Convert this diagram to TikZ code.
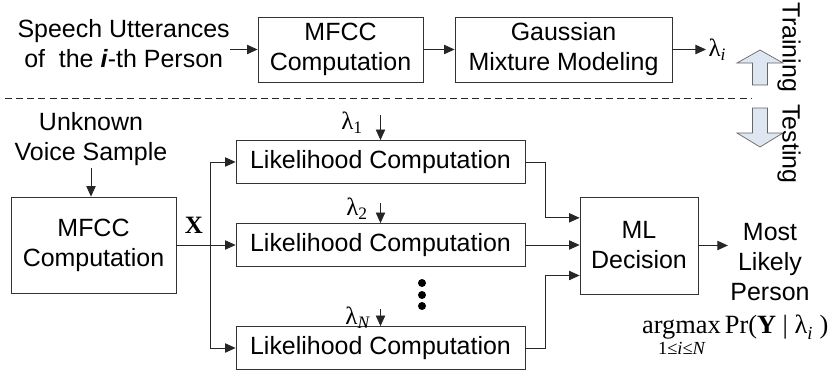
\documentclass[tikz,border=0pt]{standalone}
\usepackage{amsmath}
\usepackage{fontspec}
\setmainfont{Liberation Sans}
\newfontfamily\serifface{Liberation Serif}
\usepackage{xcolor}
\definecolor{phasefill}{RGB}{221,230,241}
\usepackage{tikz}
\usetikzlibrary{arrows.meta}
\usetikzlibrary{calc}
\newcommand{\lam}[1]{$\text{\serifface λ}_{\text{\serifface #1}}$}

\begin{document}
\begin{tikzpicture}[
    every node/.style={font=\fontsize{21.3}{25.6}\selectfont},
    block/.style={draw=black!80, line width=0.7pt, align=center, inner sep=0pt},
    note/.style={align=center, inner sep=2pt},
    wire/.style={draw=black!85, line width=0.7pt},
    flow/.style={wire, -{Triangle[length=9pt,width=8pt]}},
    phase/.style={draw=black!60, fill=phasefill, line width=0.6pt, line join=miter},
  ]
  \useasboundingbox (0cm,0cm) rectangle (24.99cm,11.13cm);

  % training: one speaker -> one model
  \node[note, anchor=east, inner sep=0pt] (speech) at (6.9cm,9.81cm) {Speech Utterances\\of\ \ the \textbf{\textit{i}}-th Person};
  \node[block, minimum width=4.95cm, minimum height=1.95cm] (mfcc1) at (10.215cm,9.645cm) {MFCC\\Computation};
  \node[block, minimum width=6.51cm, minimum height=1.95cm] (gmm) at (16.905cm,9.645cm) {Gaussian\\Mixture Modeling};
  \node[note, anchor=west] (lami) at (21.18cm,9.645cm) {\lam{\itshape i}};
  \draw[flow] (speech.east |- mfcc1.west) -- (mfcc1.west);
  \draw[flow] (mfcc1) -- (gmm);
  \draw[flow] (gmm) -- (lami);

  % phase switch
  \draw[phase] (22.8cm,9.63cm) -- (23.49cm,9.24cm) -- (23.025cm,9.24cm) -- (23.025cm,8.58cm)
    -- (22.575cm,8.58cm) -- (22.575cm,9.24cm) -- (22.11cm,9.24cm) -- cycle;
  \draw[phase] (22.8cm,6.72cm) -- (23.49cm,7.14cm) -- (23.025cm,7.14cm) -- (23.025cm,7.89cm)
    -- (22.575cm,7.89cm) -- (22.575cm,7.14cm) -- (22.11cm,7.14cm) -- cycle;
  \node[rotate=-90, inner sep=0pt] (train) at (23.67cm,9.705cm) {Training};
  \node[rotate=-90, inner sep=0pt] (test) at (23.67cm,6.81cm) {Testing};
  \draw[wire, dash pattern=on 6pt off 3.5pt] (0.15cm,8.19cm) -- (22.56cm,8.19cm);

  % testing: score the unknown sample against every model
  \node[note] (voice) at (2.73cm,6.96cm) {Unknown\\Voice Sample};
  \node[block, minimum width=4.95cm, minimum height=2.88cm] (mfcc2) at (2.805cm,3.78cm) {MFCC\\Computation};
  \draw[flow] (voice.south) -- (voice.south |- mfcc2.north);

  \foreach \i/\y in {1/6.27,2/3.78,3/0.69}
    \node[block, minimum width=8.67cm, minimum height=1.29cm] (lik\i) at (11.415cm,\y cm) {Likelihood Computation};

  \coordinate (fork) at (6.3cm,3.78cm);
  \node (x) at (5.82cm,4.38cm) {\serifface\bfseries X};
  \draw[wire] (mfcc2.east) -- (fork);
  \draw[wire] (fork |- lik1) -- (fork |- lik3);
  \foreach \i in {1,2,3}
    \draw[flow] (fork |- lik\i) -- (lik\i.west);

  \coordinate (in1) at ($(lik1.north)+(0,0.75cm)$);
  \coordinate (in2) at ($(lik2.north)+(0,0.6cm)$);
  \coordinate (in3) at ($(lik3.north)+(0,0.5cm)$);
  \foreach \i in {1,2,3}
    \draw[flow] (in\i) -- (lik\i.north);
  \node[note, anchor=east] (lam1) at (10.96cm,7.44cm) {\lam{1}};
  \node[note, anchor=east] (lam2) at (11.11cm,4.86cm) {\lam{2}};
  \node[note, anchor=east] (lamN) at (11.17cm,1.59cm) {\lam{\itshape N}};
  \fill foreach \y in {2.64,2.28,1.95}{(12.66cm,\y cm) circle [radius=0.12cm]};

  \node[block, minimum width=3.54cm, minimum height=2.91cm] (ml) at (19.17cm,3.765cm) {ML\\Decision};
  \coordinate (join) at (16.35cm,0cm);
  \draw[flow] (lik1.east) -| ($(join |- ml.west)+(0,0.83cm)$) -- ($(ml.west)+(0,0.83cm)$);
  \draw[flow] (lik2.east) -- (lik2.east -| ml.west);
  \draw[flow] (lik3.east) -| ($(join |- ml.west)+(0,-0.9cm)$) -- ($(ml.west)+(0,-0.9cm)$);

  \node[note] (best) at (23.1cm,3.27cm) {Most\\Likely\\Person};
  \draw[flow] (ml.east) -- (ml.east -| best.west);
  \node[anchor=base west, inner sep=0pt, font=\fontsize{22.5}{26}\selectfont] (rule) at (19.26cm,1.14cm)
    {$\mathop{\text{\serifface argmax}}\limits_{\text{\serifface 1≤\itshape i\upshape≤\itshape N}}
      \text{\serifface Pr(\textbf{Y} | λ}_{\text{\serifface\itshape i}}\text{\serifface\ )}$};
\end{tikzpicture}
\end{document}
